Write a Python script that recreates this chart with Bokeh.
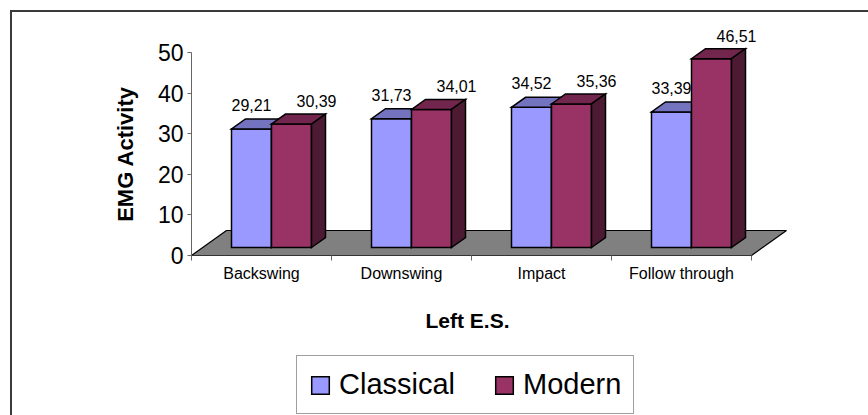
import numpy as np
from bokeh.plotting import figure
from bokeh.models import (Range1d, LinearAxis, FixedTicker, Legend, LegendItem,
                          ColumnDataSource)
from bokeh.core.properties import value
from bokeh.embed import file_html
from bokeh.resources import INLINE

# ---------------- data ----------------
categories = ["Backswing", "Downswing", "Impact", "Follow through"]
classical = [29.21, 31.73, 34.52, 33.39]
modern = [30.39, 34.01, 35.36, 46.51]
y_ticks = [0, 10, 20, 30, 40, 50]
series_names = ["Classical", "Modern"]
y_title = "EMG Activity"
x_title = "Left E.S."

# ---------------- style ----------------
FONT = "Liberation Sans"
W, H = 868, 415
X0PX, Y0PX = 191, 255   # pixel position of the axes origin
XS = 140.0              # px per category
YS = 4.06               # px per value unit
BLUE = dict(front="#9999FF", top="#7373C0", side="#4D4D80")
RED = dict(front="#993366", top="#73264D", side="#4D1A33")

fdx, fdy = 10 / XS, 8 / YS       # bar front-face offset into depth
bdx, bdy = 14 / XS, 10 / YS      # bar depth
Fdx, Fdy = 35 / XS, 25 / YS      # floor depth
bw = 40 / XS                     # bar width

n = len(categories)
p = figure(width=W, height=H,
           x_range=Range1d(-X0PX / XS, (W - X0PX) / XS),
           y_range=Range1d(-(H - Y0PX) / YS, Y0PX / YS),
           output_backend="svg", toolbar_location=None,
           x_axis_type=None, y_axis_type=None,
           min_border_left=0, min_border_right=0,
           min_border_top=0, min_border_bottom=0)
p.outline_line_color = None
p.background_fill_color = None
p.border_fill_color = None
p.styles = {"box-shadow": "inset 10px 10px 0 0 #ffffff, inset 12px 12px 0 0 #3a3a3a",
            "background-color": "#ffffff"}

# floor
p.patch([0, n, n + Fdx, Fdx], [0, 0, Fdy, Fdy],
        fill_color="#808080", line_color="black", line_width=1.2)


def bar_faces(values, x_left):
    fx, fy, tx, ty, sx, sy = [], [], [], [], [], []
    for x0, v in zip(x_left, values):
        fx.append([x0, x0 + bw, x0 + bw, x0])
        fy.append([fdy, fdy, fdy + v, fdy + v])
        tx.append([x0, x0 + bw, x0 + bw + bdx, x0 + bdx])
        ty.append([fdy + v, fdy + v, fdy + v + bdy, fdy + v + bdy])
        sx.append([x0 + bw, x0 + bw + bdx, x0 + bw + bdx, x0 + bw])
        sy.append([fdy, fdy + bdy, fdy + v + bdy, fdy + v])
    return fx, fy, tx, ty, sx, sy


centers = np.arange(n) + 0.5
renderers = []
for values, x_left, col in [(classical, centers - bw + fdx, BLUE),
                            (modern, centers + fdx, RED)]:
    fx, fy, tx, ty, sx, sy = bar_faces(values, x_left)
    r = p.patches(fx, fy, fill_color=col["front"], line_color="black",
                  line_width=1.5, line_join="miter")
    p.patches(tx, ty, fill_color=col["top"], line_color="black",
              line_width=1.5, line_join="miter")
    p.patches(sx, sy, fill_color=col["side"], line_color="black",
              line_width=1.5, line_join="miter")
    renderers.append(r)

# data labels
def fmt(v):
    return f"{v:.2f}".replace(".", ",")

src_c = ColumnDataSource(dict(
    x=centers - bw / 2 + fdx + 0 / XS,
    y=np.array(classical) + fdy + 24 / YS,
    t=[fmt(v) for v in classical]))
src_m = ColumnDataSource(dict(
    x=centers + bw / 2 + fdx + 25 / XS,
    y=np.array(modern) + fdy + 23 / YS,
    t=[fmt(v) for v in modern]))
for s in (src_c, src_m):
    p.text("x", "y", text="t", source=s, text_font=value(FONT),
           text_font_size="16px", text_align="center",
           text_baseline="middle", text_color="black")

# y axis (drawn at x = 0 inside the frame)
yaxis = LinearAxis(bounds=(0, 50), fixed_location=0,
                   ticker=FixedTicker(ticks=y_ticks, minor_ticks=[]))
yaxis.axis_line_color = "#666666"
yaxis.major_tick_line_color = "#666666"
yaxis.major_tick_out = 4
yaxis.major_tick_in = 0
yaxis.major_label_standoff = 4
yaxis.major_label_text_font = FONT
yaxis.major_label_text_font_size = "23px"
yaxis.major_label_text_color = "black"
p.add_layout(yaxis, "left")

# x axis (drawn at y = 0 inside the frame)
xaxis = LinearAxis(bounds=(0, n), fixed_location=0,
                   ticker=FixedTicker(ticks=list(centers),
                                      minor_ticks=list(range(n + 1))))
xaxis.major_label_overrides = {float(c): name for c, name in zip(centers, categories)}
xaxis.axis_line_color = "#333333"
xaxis.major_tick_out = 0
xaxis.major_tick_in = 0
xaxis.minor_tick_out = 5
xaxis.minor_tick_in = 0
xaxis.minor_tick_line_color = "#666666"
xaxis.major_label_standoff = 4
xaxis.major_label_text_font = FONT
xaxis.major_label_text_font_size = "16px"
xaxis.major_label_text_color = "black"
p.add_layout(xaxis, "below")

# axis titles
p.text(x=[-66 / XS], y=[25], text=[y_title], angle=np.pi / 2,
       text_font=value(FONT), text_font_size="22px", text_font_style="bold",
       text_align="center", text_baseline="middle", text_color="black")
p.text(x=[n / 2 - 4 / XS], y=[-65 / YS], text=[x_title],
       text_font=value(FONT), text_font_size="21px", text_font_style="bold",
       text_align="center", text_baseline="middle", text_color="black")

# legend
legend = Legend(items=[LegendItem(label=series_names[0], renderers=[renderers[0]]),
                       LegendItem(label=series_names[1], renderers=[renderers[1]])],
                orientation="horizontal", location=(296, 1))
legend.label_text_font = FONT
legend.label_text_font_size = "29px"
legend.label_text_color = "black"
legend.glyph_width = 22
legend.glyph_height = 22
legend.label_standoff = 8
legend.spacing = 38
legend.padding = 12
legend.margin = 0
legend.border_line_color = "#404040"
legend.border_line_width = 1
legend.background_fill_alpha = 0
p.add_layout(legend, "center")

open("out.html", "w").write(file_html(p, INLINE))
